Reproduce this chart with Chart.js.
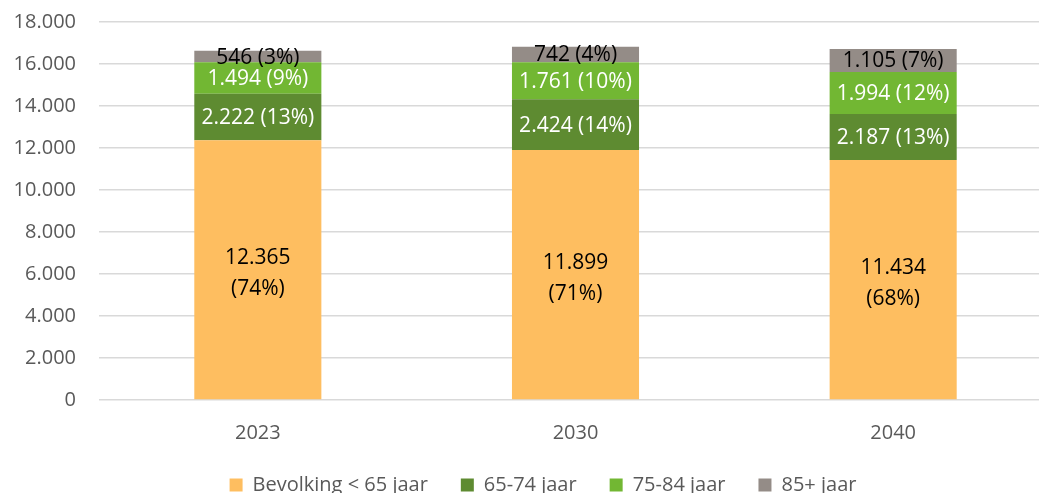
<!DOCTYPE html>
<html>
<head>
<meta charset="utf-8">
<script src="https://cdn.jsdelivr.net/npm/chart.js@4/dist/chart.umd.min.js"></script>
<style>
html,body{margin:0;padding:0;background:#fff;overflow:hidden;}
canvas{display:block;}
</style>
</head>
<body>
<canvas id="c" width="1052" height="508"></canvas>
<script>
const categories = ['2023', '2030', '2040'];
const seriesNames = ['Bevolking < 65 jaar', '65-74 jaar', '75-84 jaar', '85+ jaar'];
const under65 = [12365, 11899, 11434];
const age65_74 = [2222, 2424, 2187];
const age75_84 = [1494, 1761, 1994];
const age85plus = [546, 742, 1105];
const yTicks = [0, 2000, 4000, 6000, 8000, 10000, 12000, 14000, 16000, 18000];

const colors = ['#FEBE60', '#5E8B31', '#72B733', '#948C87'];
const labelColors = ['#000000', '#FFFFFF', '#FFFFFF', '#000000'];
const allSeries = [under65, age65_74, age75_84, age85plus];

function fmt(n) { return String(n).replace(/\B(?=(\d{3})+(?!\d))/g, '.'); }
const totals = categories.map((_, i) => allSeries.reduce((s, a) => s + a[i], 0));

const FONT = '"Open Sans", Lato, sans-serif';
const LEGEND_PAD = 33;

const labelPlugin = {
  id: 'barLabels',
  afterDatasetsDraw(chart) {
    const ctx = chart.ctx;
    ctx.save();
    ctx.font = '21px ' + FONT;
    ctx.textAlign = 'center';
    ctx.textBaseline = 'middle';
    chart.data.datasets.forEach((ds, di) => {
      const meta = chart.getDatasetMeta(di);
      meta.data.forEach((bar, i) => {
        const v = ds.data[i];
        const pct = Math.round(v / totals[i] * 100);
        const cy = (bar.y + bar.base) / 2;
        ctx.fillStyle = labelColors[di];
        if (di === 0) {
          ctx.fillText(fmt(v), bar.x, cy - 12);
          ctx.fillText('(' + pct + '%)', bar.x, cy + 19);
        } else {
          ctx.fillText(fmt(v) + ' (' + pct + '%)', bar.x, cy + 1);
        }
      });
    });
    ctx.restore();
  }
};

const legendShift = {
  id: 'legendShift',
  afterLayout(chart) {
    const lg = chart.legend;
    if (!lg) return;
    lg.left += 17; lg.right += 17;
    const dy = (485 - LEGEND_PAD - 10) - lg.top;
    lg.top += dy; lg.bottom += dy;
  }
};

new Chart(document.getElementById('c'), {
  type: 'bar',
  data: {
    labels: categories,
    datasets: allSeries.map((d, i) => ({
      label: seriesNames[i],
      data: d,
      backgroundColor: colors[i],
      borderWidth: 0,
      categoryPercentage: 1,
      barPercentage: 0.4
    }))
  },
  options: {
    responsive: false,
    animation: false,
    devicePixelRatio: 1,
    layout: { padding: { left: 0, right: 0, top: 22, bottom: 0 } },
    plugins: {
      tooltip: { enabled: false },
      legend: {
        position: 'bottom',
        labels: {
          boxWidth: 13, boxHeight: 13, padding: LEGEND_PAD,
          color: '#595959',
          font: { family: FONT, size: 20 }
        }
      }
    },
    scales: {
      x: {
        stacked: true,
        afterFit(scale) { scale.height = 45; },
        grid: { display: false },
        border: { display: false },
        ticks: { color: '#595959', font: { family: FONT, size: 20 }, padding: 13 }
      },
      y: {
        stacked: true,
        min: 0, max: 18000,
        afterFit(scale) { scale.width = 99; },
        afterBuildTicks(scale) { scale.ticks = yTicks.map(v => ({ value: v })); },
        grid: { color: '#D9D9D9', lineWidth: 1.5, drawTicks: true, tickLength: 23, tickColor: 'rgba(0,0,0,0)' },
        border: { display: false },
        ticks: { color: '#595959', font: { family: FONT, size: 20 }, padding: 0, callback: v => fmt(v) }
      }
    }
  },
  plugins: [labelPlugin, legendShift]
});
</script>
</body>
</html>
